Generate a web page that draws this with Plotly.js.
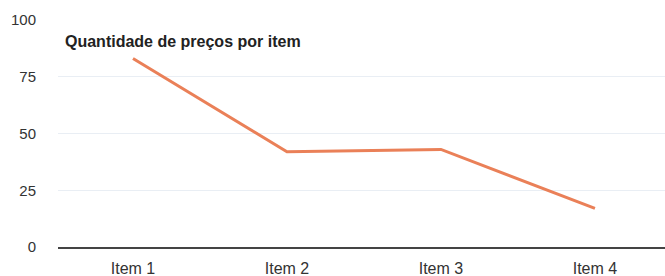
<!DOCTYPE html>
<html>
<head>
<meta charset="utf-8">
<script src="https://cdn.plot.ly/plotly-3.0.1.min.js"></script>
<style>html,body{margin:0;padding:0;background:#fff;}#chart{width:665px;height:276px;}</style>
</head>
<body>
<div id="chart"></div>
<script>
const categories = ["Item 1", "Item 2", "Item 3", "Item 4"];
const quantidade = [83, 42, 43, 17];
const yTicks = [0, 25, 50, 75, 100];
const chartTitle = "Quantidade de preços por item";

const trace = {
  x: categories,
  y: quantidade,
  type: "scatter",
  mode: "lines",
  line: {color: "#ea8058", width: 3},
  hoverinfo: "skip"
};

const layout = {
  width: 665,
  height: 276,
  margin: {l: 58, r: 0, t: 20, b: 29},
  paper_bgcolor: "#ffffff",
  plot_bgcolor: "#ffffff",
  showlegend: false,
  font: {family: "Liberation Sans, Arial, sans-serif", color: "#333333", size: 15},
  title: {
    text: "<b>" + chartTitle + "</b>",
    font: {family: "Liberation Sans, Arial, sans-serif", size: 16, color: "#222222"},
    xref: "container", yref: "container",
    x: 65/665, xanchor: "left",
    y: 1 - 41/276, yanchor: "middle"
  },
  xaxis: {
    type: "category",
    range: [-0.487, 3.455],
    showgrid: false,
    zeroline: false,
    showline: true,
    linecolor: "#444444",
    linewidth: 1.5,
    ticks: "",
    ticklabelstandoff: 6,
    tickfont: {size: 16, color: "#333333"}
  },
  yaxis: {
    range: [0, 100],
    tickvals: yTicks,
    showgrid: true,
    gridcolor: "#e9eef4",
    gridwidth: 1,
    zeroline: false,
    showline: false,
    ticks: "",
    ticklabelstandoff: 21,
    tickfont: {size: 15, color: "#333333"}
  }
};

Plotly.newPlot("chart", [trace], layout, {displayModeBar: false, staticPlot: true});
</script>
</body>
</html>
